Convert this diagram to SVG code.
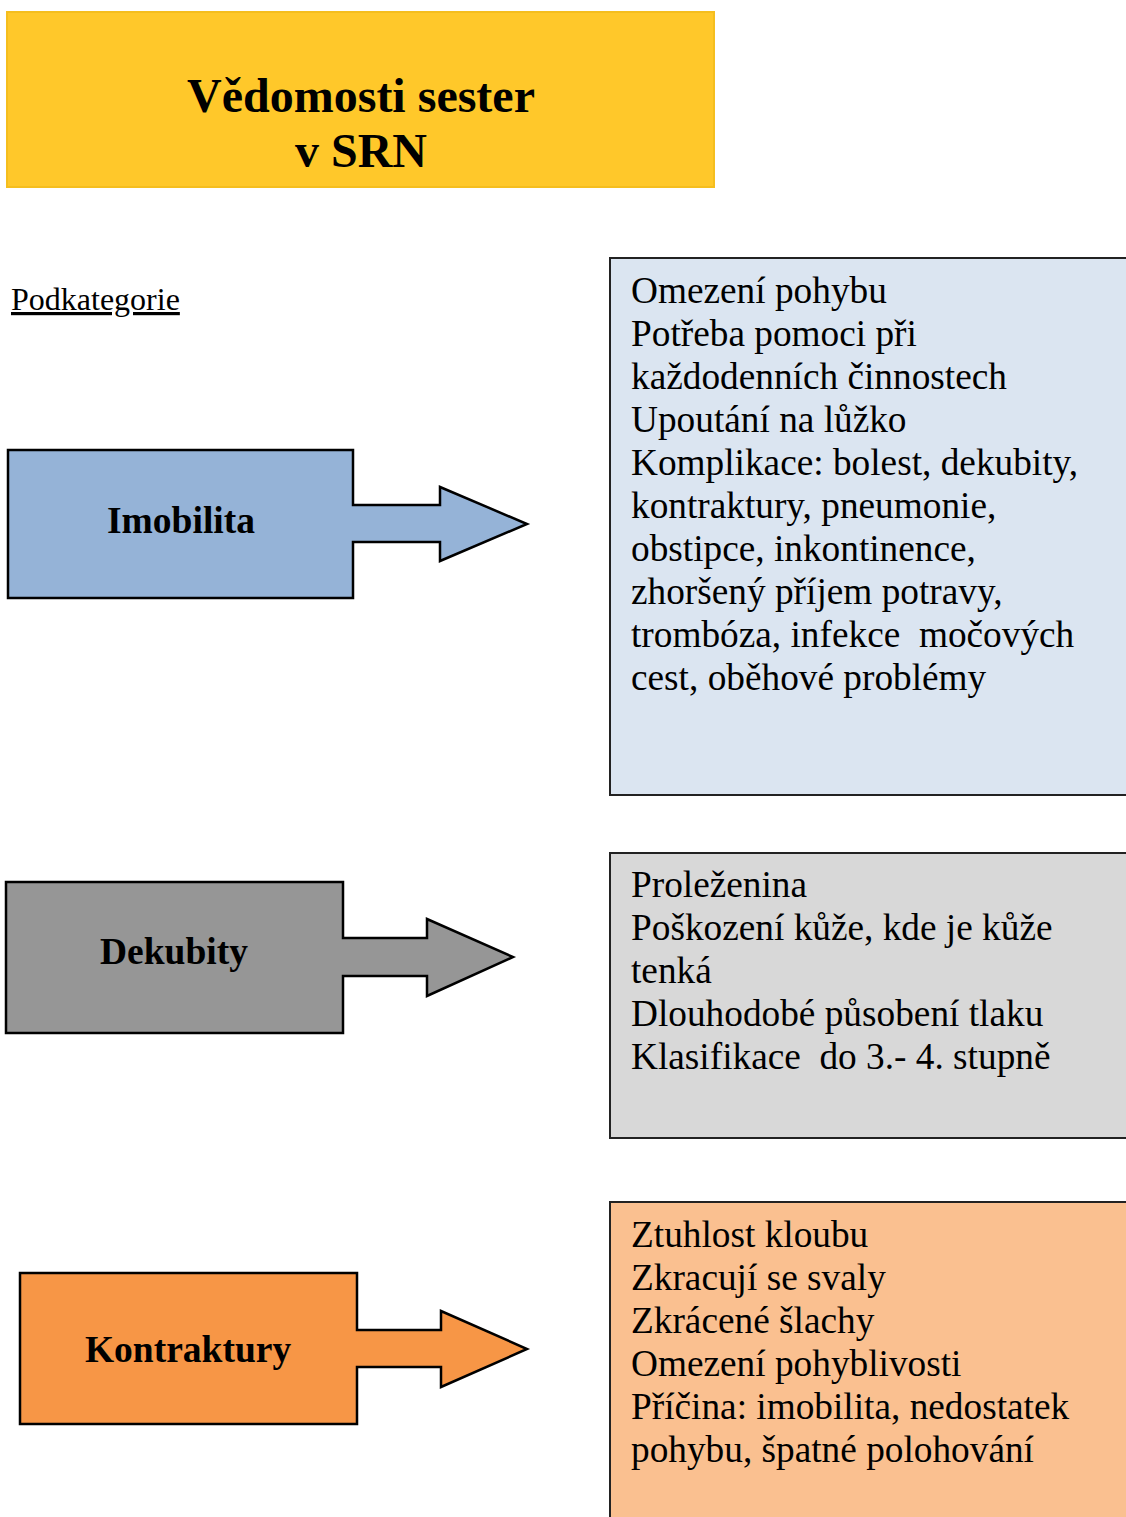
<svg xmlns="http://www.w3.org/2000/svg" width="1126" height="1517" viewBox="0 0 1126 1517">
<style>
.t{font-family:"Liberation Serif","Times New Roman",serif;fill:#000}
.title{font-size:48px;font-weight:bold;text-anchor:middle}
.lbl{font-size:37.5px;font-weight:bold;text-anchor:middle}
.body{font-size:37.3px}
.arr{stroke:#000;stroke-width:2.5;stroke-linejoin:miter}
.box{stroke:#222;stroke-width:2}
</style>
<rect width="1126" height="1517" fill="#fff"/>
<g id="title">
<rect x="7" y="12" width="707" height="175" fill="#FFC82A" stroke="#F5BE1E" stroke-width="2"/>
<text class="t title" x="361" y="112">Vědomosti sester</text>
<text class="t title" x="361" y="167">v SRN</text>
</g>
<g id="podkategorie">
<text class="t" x="11" y="310" font-size="32" text-decoration="underline">Podkategorie</text>
</g>
<g id="imobilita">
<path class="arr" fill="#95B3D7" d="M8,450 H353 V505 H440 V487 L527,524 L440,561 V542 H353 V598 H8 Z"/>
<text class="t lbl" x="181" y="533">Imobilita</text>
</g>
<g id="dekubity">
<path class="arr" fill="#969696" d="M6,882 H343 V938 H427 V919 L513,957 L427,996 V976 H343 V1033 H6 Z"/>
<text class="t lbl" x="174" y="964">Dekubity</text>
</g>
<g id="kontraktury">
<path class="arr" fill="#F79646" d="M20,1273 H357 V1330 H441 V1311 L527,1349 L441,1387 V1367 H357 V1424 H20 Z"/>
<text class="t lbl" x="188" y="1362">Kontraktury</text>
</g>
<g id="box-imobilita">
<rect class="box" x="610" y="258" width="530" height="537" fill="#DBE5F1"/>
<text class="t body" x="631" y="303">Omezení pohybu</text>
<text class="t body" x="631" y="346">Potřeba pomoci při</text>
<text class="t body" x="631" y="389">každodenních činnostech</text>
<text class="t body" x="631" y="432">Upoutání na lůžko</text>
<text class="t body" x="631" y="475">Komplikace: bolest, dekubity,</text>
<text class="t body" x="631" y="518">kontraktury, pneumonie,</text>
<text class="t body" x="631" y="561">obstipce, inkontinence,</text>
<text class="t body" x="631" y="604">zhoršený příjem potravy,</text>
<text class="t body" x="631" y="647" xml:space="preserve">trombóza, infekce  močových</text>
<text class="t body" x="631" y="690">cest, oběhové problémy</text>
</g>
<g id="box-dekubity">
<rect class="box" x="610" y="853" width="530" height="285" fill="#D8D8D8"/>
<text class="t body" x="631" y="897">Proleženina</text>
<text class="t body" x="631" y="940">Poškození kůže, kde je kůže</text>
<text class="t body" x="631" y="983">tenká</text>
<text class="t body" x="631" y="1026">Dlouhodobé působení tlaku</text>
<text class="t body" x="631" y="1069" xml:space="preserve">Klasifikace  do 3.- 4. stupně</text>
</g>
<g id="box-kontraktury">
<rect class="box" x="610" y="1202" width="530" height="330" fill="#FAC090"/>
<text class="t body" x="631" y="1247">Ztuhlost kloubu</text>
<text class="t body" x="631" y="1290">Zkracují se svaly</text>
<text class="t body" x="631" y="1333">Zkrácené šlachy</text>
<text class="t body" x="631" y="1376">Omezení pohyblivosti</text>
<text class="t body" x="631" y="1419">Příčina: imobilita, nedostatek</text>
<text class="t body" x="631" y="1462">pohybu, špatné polohování</text>
</g>
<g id="connectors"></g>
</svg>
